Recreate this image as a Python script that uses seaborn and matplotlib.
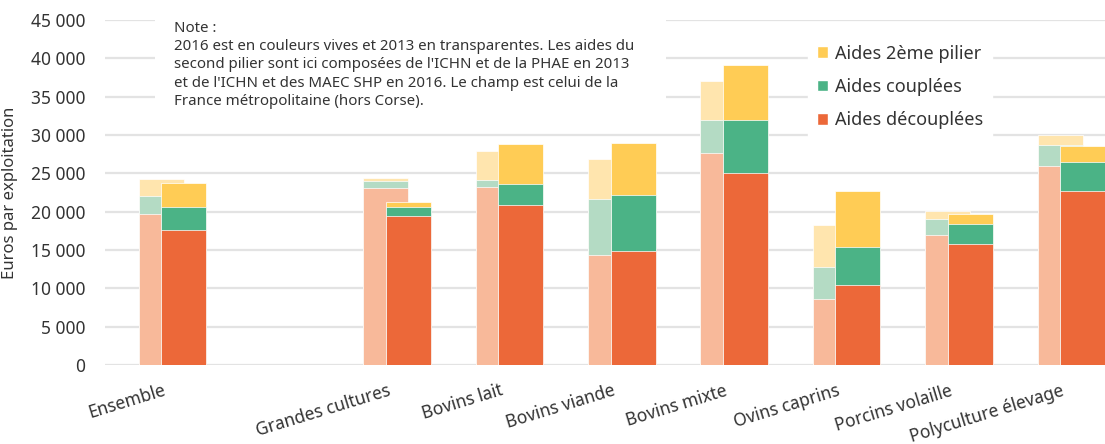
import numpy as np
import pandas as pd
import matplotlib
matplotlib.use("Agg")
import matplotlib.pyplot as plt
import matplotlib.transforms as mtrans
from matplotlib.patches import Patch, Rectangle
from matplotlib.ticker import FuncFormatter
import seaborn as sns

# categories ("" = empty slot between Ensemble and the OTEX)
categories = ["Ensemble", "", "Grandes cultures", "Bovins lait", "Bovins viande",
              "Bovins mixte", "Ovins caprins", "Porcins volaille", "Polyculture élevage"]

# euros par exploitation, 2013
decouplees_2013 = [19700, np.nan, 23100, 23200, 14400, 27600, 8650, 17000, 25900]
couplees_2013 = [2400, np.nan, 900, 900, 7250, 4400, 4130, 2090, 2830]
pilier2_2013 = [2180, np.nan, 390, 3780, 5260, 5080, 5480, 950, 1210]

# euros par exploitation, 2016
decouplees_2016 = [17600, np.nan, 19480, 20830, 14830, 25000, 10430, 15830, 22700]
couplees_2016 = [3050, np.nan, 1130, 2820, 7390, 6960, 4920, 2560, 3820]
pilier2_2016 = [3090, np.nan, 690, 5220, 6780, 7130, 7390, 1350, 2090]

series_names = ["Aides découplées", "Aides couplées", "Aides 2ème pilier"]
vivid = ["#EC6839", "#4BB386", "#FFCC55"]
pale = ["#F8B99A", "#B4DBC4", "#FFE5AE"]

note = ("Note :\n"
        "2016 est en couleurs vives et 2013 en transparentes. Les aides du\n"
        "second pilier sont ici composées de l'ICHN et de la PHAE en 2013\n"
        "et de l'ICHN et des MAEC SHP en 2016. Le champ est celui de la\n"
        "France métropolitaine (hors Corse).")

sns.set_style("white")
plt.rcParams['font.family'] = ['Noto Sans', 'DejaVu Sans']
txt = "#333333"

fig = plt.figure(figsize=(11.05, 4.44), dpi=100)
ax = fig.add_axes([0.095, 0.178, 0.905, 0.777])

slot = np.arange(len(categories))
years = {
    2013: (-0.1, pale, [decouplees_2013, couplees_2013, pilier2_2013]),
    2016: (0.1, vivid, [decouplees_2016, couplees_2016, pilier2_2016]),
}

for year, (offset, cols, parts) in years.items():
    df = pd.DataFrame({"pos": slot + offset,
                       "d": parts[0], "c": parts[1], "p": parts[2]}).dropna()
    cum = [df["d"], df["d"] + df["c"], df["d"] + df["c"] + df["p"]]
    # draw tallest first so each stacked piece shows on top
    for i in [2, 1, 0]:
        sns.barplot(x=df["pos"], y=cum[i], native_scale=True, width=0.4,
                    color=cols[i], saturation=1, errorbar=None,
                    edgecolor="white", linewidth=0.5, ax=ax)

ax.set_xlim(-0.6, 8.3)
ax.set_ylim(0, 45000)
ax.set_yticks(np.arange(0, 45001, 5000))
ax.yaxis.set_major_formatter(FuncFormatter(lambda v, p: f"{v:,.0f}".replace(",", " ")))
ax.grid(axis="y", color="#E3E3E3", linewidth=1.6, zorder=0)
ax.set_axisbelow(True)
sns.despine(ax=ax, left=True, bottom=True)
ax.tick_params(axis="both", length=0, colors=txt, labelsize=12.5)
ax.tick_params(axis="y", pad=14)

keep = [i for i, c in enumerate(categories) if c]
ax.set_xticks(slot[keep])
ax.set_xticklabels([categories[i] for i in keep], rotation=17, ha="right",
                   rotation_mode="anchor")
ax.tick_params(axis="x", pad=12)
shift = mtrans.ScaledTranslation(-0.1, 0, fig.dpi_scale_trans)
for lab in ax.get_xticklabels():
    lab.set_transform(lab.get_transform() + shift)

ax.set_xlabel("")
ax.set_ylabel("Euros par exploitation", fontsize=12, color=txt)
ax.yaxis.set_label_coords(-0.087, 0.5)

# white box behind the note
ax.add_patch(Rectangle((0.05, 0.71), 0.511, 0.35, transform=ax.transAxes,
                       facecolor="white", edgecolor="none", zorder=0.8, clip_on=False))
ax.text(0.069, 0.998, note, transform=ax.transAxes, ha="left", va="top",
        fontsize=10.8, color=txt, linespacing=1.3, zorder=3)

handles = [Patch(facecolor=vivid[i], label=series_names[i]) for i in [2, 1, 0]]
leg = ax.legend(handles=handles, loc="upper left", bbox_to_anchor=(0.703, 0.955),
                frameon=True, fontsize=13, handlelength=0.6, handleheight=0.6,
                handletextpad=0.4, labelspacing=0.85, borderpad=0.5,
                borderaxespad=0, fancybox=False)
leg.get_frame().set_facecolor("white")
leg.get_frame().set_edgecolor("white")
leg.get_frame().set_alpha(1)
for t in leg.get_texts():
    t.set_color(txt)

fig.savefig("out.png", dpi=100)
